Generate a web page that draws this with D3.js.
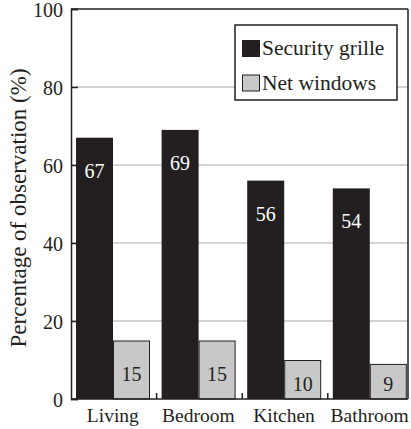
<!DOCTYPE html>
<html><head><meta charset="utf-8">
<script src="https://cdn.jsdelivr.net/npm/d3@7"></script>
<style>
@font-face{font-family:"ChartSerif";src:local("Liberation Serif"),local("LiberationSerif"),local("LiberationSerif-Regular"),local("Times New Roman"),local("Tinos");}
</style>
</head>
<body style="margin:0">
<svg id="chart" width="411" height="429"></svg>
<script>
const categories = ["Living", "Bedroom", "Kitchen", "Bathroom"];
const seriesNames = ["Security grille", "Net windows"];
const securityGrille = [67, 69, 56, 54];
const netWindows = [15, 15, 10, 9];
const yTicks = [0, 20, 40, 60, 80, 100];

(function () {
const FONT = '"Liberation Serif", "ChartSerif", "Times New Roman", Tinos, serif';
const colors = ["#231f20", "#c8c8c8"];
const svg = d3.select("#chart");
const pLeft = 71, pRight = 408, pTop = 9, pBottom = 399;
const bandStep = 85.6;

const y = d3.scaleLinear().domain([0, 100]).range([pBottom, pTop]);
const x0 = d3.scaleBand().domain(categories).range([pLeft, pLeft + bandStep * categories.length]).paddingInner(0).paddingOuter(0);
const x1 = d3.scaleBand().domain(seriesNames).range([5, 79]).padding(0);

svg.append("g").selectAll("line").data(yTicks.filter(d => d > 0 && d < 100)).join("line")
  .attr("x1", pLeft).attr("x2", pRight)
  .attr("y1", d => y(d)).attr("y2", d => y(d))
  .attr("stroke", "#a8a8a8").attr("stroke-width", 1);

const data = categories.map((c, i) => ({cat: c, vals: [securityGrille[i], netWindows[i]]}));

const groups = svg.append("g").selectAll("g").data(data).join("g")
  .attr("transform", d => `translate(${x0(d.cat)},0)`);

groups.selectAll("rect").data(d => d.vals.map((v, j) => ({v, s: seriesNames[j], j}))).join("rect")
  .attr("x", d => x1(d.s) + (d.j === 1 ? 0.5 : 0))
  .attr("y", d => y(d.v) + (d.j === 1 ? 0.5 : 0))
  .attr("width", d => x1.bandwidth() - (d.j === 1 ? 1 : 0))
  .attr("height", d => pBottom - y(d.v) - (d.j === 1 ? 0.5 : 0))
  .attr("fill", d => colors[d.j])
  .attr("stroke", d => d.j === 1 ? "#231f20" : "none")
  .attr("stroke-width", 1);

groups.selectAll("text").data(d => d.vals.map((v, j) => ({v, s: seriesNames[j], j}))).join("text")
  .attr("x", d => x1(d.s) + x1.bandwidth() / 2)
  .attr("y", d => Math.min(y(d.v) + 40, pBottom - 8))
  .attr("text-anchor", "middle")
  .attr("font-size", 20)
  .style("font-family", FONT)
  .attr("fill", d => d.j === 0 ? "#ffffff" : "#231f20")
  .text(d => d.v);

svg.append("line").attr("x1", pLeft).attr("x2", pRight).attr("y1", pTop).attr("y2", pTop)
  .attr("stroke", "#231f20").attr("stroke-width", 1.5);
svg.append("line").attr("x1", pRight).attr("x2", pRight).attr("y1", pTop).attr("y2", pBottom)
  .attr("stroke", "#231f20").attr("stroke-width", 1.5);

const yAxis = d3.axisLeft(y).tickValues(yTicks).tickSize(-7).tickPadding(8).tickFormat(d3.format("d"));
const ga = svg.append("g").attr("transform", `translate(${pLeft},0)`).call(yAxis)
  .attr("font-family", null).attr("font-size", 20);
ga.select(".domain").attr("stroke", "#231f20").attr("stroke-width", 1.5);
ga.selectAll(".tick line").attr("stroke", "#231f20").attr("stroke-width", 1.5);
ga.selectAll(".tick text").attr("fill", "#231f20").attr("dy", "0.36em").style("font-family", FONT);

svg.append("line").attr("x1", pLeft).attr("x2", pRight).attr("y1", pBottom).attr("y2", pBottom)
  .attr("stroke", "#231f20").attr("stroke-width", 1.5);
svg.append("g").selectAll("line").data(categories.slice(1)).join("line")
  .attr("x1", d => x0(d)).attr("x2", d => x0(d))
  .attr("y1", pBottom).attr("y2", pBottom - 6)
  .attr("stroke", "#231f20").attr("stroke-width", 1.5);
svg.append("g").selectAll("text").data(categories).join("text")
  .attr("x", d => x0(d) + x0.bandwidth() / 2 - 1)
  .attr("y", 422)
  .attr("text-anchor", "middle")
  .attr("font-size", 19.5)
  .style("font-family", FONT)
  .attr("fill", "#231f20")
  .text(d => d);

svg.append("text")
  .attr("transform", `translate(26,${(pTop + pBottom) / 2 + 4}) rotate(-90)`)
  .attr("text-anchor", "middle")
  .attr("font-size", 23)
  .style("font-family", FONT)
  .attr("fill", "#231f20")
  .text("Percentage of observation (%)");

const lg = svg.append("g");
lg.append("rect").attr("x", 235).attr("y", 25).attr("width", 162).attr("height", 75)
  .attr("fill", "#fff").attr("stroke", "#231f20").attr("stroke-width", 1.5);
seriesNames.forEach((s, i) => {
  lg.append("rect").attr("x", 242.5).attr("y", 40.5 + i * 34.5).attr("width", 17).attr("height", 16)
    .attr("fill", colors[i]).attr("stroke", "#231f20").attr("stroke-width", 1);
  lg.append("text").attr("x", 262).attr("y", 55 + i * 34.5)
    .attr("font-size", 21.5).style("font-family", FONT).attr("fill", "#231f20").text(s);
});
})();
</script>
</body></html>
